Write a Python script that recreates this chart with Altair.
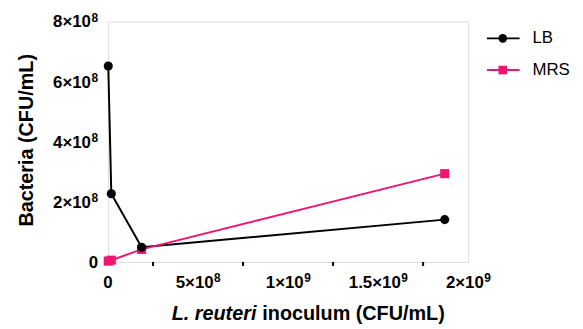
import altair as alt
import pandas as pd

inoculum = [1.87e6, 1.87e7, 1.87e8, 1.87e9]
lb = [6.52e8, 2.27e8, 4.9e7, 1.41e8]
mrs = [3e6, 6e6, 4.2e7, 2.94e8]
series = ["LB", "MRS"]
colors = ["#000000", "#EE1670"]
shapes = ["circle", "square"]

x_ticks = [0, 5e8, 1e9, 1.5e9, 2e9]
x_label_base = ["0", "5×10", "1×10", "1.5×10", "2×10"]
x_label_exp = ["", "8", "9", "9", "9"]
x_minor = [2.5e8, 7.5e8, 1.25e9, 1.75e9]
y_ticks = [0, 2e8, 4e8, 6e8, 8e8]
y_label_base = ["0", "2×10", "4×10", "6×10", "8×10"]
y_label_exp = ["", "8", "8", "8", "8"]

FONT = "Liberation Sans"
W, H = 364, 243
LAB_SIZE = 17
SUP_SIZE = 12

# Arial/Liberation Sans Bold advance widths (em)
ADV = {"0": .556, "1": .556, "2": .556, "3": .556, "4": .556, "5": .556,
       "6": .556, "7": .556, "8": .556, "9": .556, "×": .584, ".": .278}


def text_w(s, size):
    return sum(ADV.get(c, .556) for c in s) * size


df = pd.DataFrame({
    "x": inoculum * 2,
    "y": lb + mrs,
    "series": ["LB"] * len(lb) + ["MRS"] * len(mrs),
})

xscale = alt.Scale(domain=[0, 2e9], nice=False)
yscale = alt.Scale(domain=[0, 8e8], nice=False)
cscale = alt.Scale(domain=series, range=colors)
sscale = alt.Scale(domain=series, range=shapes)

axis_common = dict(
    domainColor="black", domainWidth=2, tickColor="black", tickWidth=2,
    tickSize=5, grid=False, labels=False, title=None,
)

xenc = alt.X("x:Q", scale=xscale, axis=alt.Axis(values=x_ticks, **axis_common))
yenc = alt.Y("y:Q", scale=yscale, axis=alt.Axis(values=y_ticks, **axis_common))

base = alt.Chart(df)

lines = base.mark_line(strokeWidth=2).encode(
    x=xenc, y=yenc,
    color=alt.Color("series:N", scale=cscale, legend=None),
    detail="series:N",
)

points = base.transform_calculate(order="datum.series == 'LB' ? 1 : 0").mark_point(
    filled=True, opacity=1, size=85
).encode(
    x="x:Q", y="y:Q",
    color=alt.Color("series:N", scale=cscale, legend=None),
    shape=alt.Shape("series:N", scale=sscale, legend=None),
    order="order:Q",
)

minor = alt.Chart(pd.DataFrame({"m": x_minor})).mark_rule(
    color="black", strokeWidth=2
).encode(x=alt.X("m:Q", scale=xscale, axis=None), y=alt.value(H), y2=alt.value(H + 4))

# tick labels with real superscripts (two text marks per label)
label_layers = []
for v, b, e in zip(x_ticks, x_label_base, x_label_exp):
    wb = text_w(b, LAB_SIZE)
    ws = text_w(e, SUP_SIZE)
    d = pd.DataFrame({"v": [v]})
    label_layers.append(alt.Chart(d).mark_text(
        text=b, font=FONT, fontWeight="bold", fontSize=LAB_SIZE, align="right",
        baseline="alphabetic", color="black", dx=(wb - ws) / 2
    ).encode(x=alt.X("v:Q", scale=xscale, axis=None), y=alt.value(H + 26)))
    if e:
        label_layers.append(alt.Chart(d).mark_text(
            text=e, font=FONT, fontWeight="bold", fontSize=SUP_SIZE, align="left",
            baseline="alphabetic", color="black", dx=(wb - ws) / 2 + 0.5
        ).encode(x=alt.X("v:Q", scale=xscale, axis=None), y=alt.value(H + 20)))

for v, b, e in zip(y_ticks, y_label_base, y_label_exp):
    ws = text_w(e, SUP_SIZE)
    d = pd.DataFrame({"v": [v]})
    label_layers.append(alt.Chart(d).mark_text(
        text=b, font=FONT, fontWeight="bold", fontSize=LAB_SIZE, align="right",
        baseline="alphabetic", color="black", dy=6
    ).encode(y=alt.Y("v:Q", scale=yscale, axis=None), x=alt.value(-10 - ws - (0.5 if e else 0))))
    if e:
        label_layers.append(alt.Chart(d).mark_text(
            text=e, font=FONT, fontWeight="bold", fontSize=SUP_SIZE, align="right",
            baseline="alphabetic", color="black", dy=0
        ).encode(y=alt.Y("v:Q", scale=yscale, axis=None), x=alt.value(-10)))

one = pd.DataFrame({"a": [0]})
ytitle = alt.Chart(one).mark_text(
    text="Bacteria (CFU/mL)", font=FONT, fontWeight="bold", fontSize=20,
    angle=270, align="center", baseline="middle", color="black"
).encode(x=alt.value(-82), y=alt.value(120))

xtitle1 = alt.Chart(one).mark_text(
    text="L. reuteri", font=FONT, fontWeight="bold", fontStyle="italic",
    fontSize=20, align="right", baseline="alphabetic", color="black"
).encode(x=alt.value(150), y=alt.value(302))
xtitle2 = alt.Chart(one).mark_text(
    text="inoculum (CFU/mL)", font=FONT, fontWeight="bold",
    fontSize=20, align="left", baseline="alphabetic", color="black"
).encode(x=alt.value(156), y=alt.value(302))

legend_layers = []
leg_y = [17, 49]
for name, col, shp, ly in zip(series, colors, shapes, leg_y):
    legend_layers.append(alt.Chart(one).mark_rule(color=col, strokeWidth=2).encode(
        x=alt.value(383), x2=alt.value(416), y=alt.value(ly)))
    legend_layers.append(alt.Chart(one).mark_point(
        filled=True, opacity=1, size=75, shape=shp, color=col).encode(
        x=alt.value(399), y=alt.value(ly)))
    legend_layers.append(alt.Chart(one).mark_text(
        text=name, font=FONT, fontSize=17, align="left", baseline="middle",
        color="black").encode(x=alt.value(429), y=alt.value(ly)))

chart = alt.layer(
    minor, lines, points, *label_layers, ytitle, xtitle1, xtitle2, *legend_layers
).properties(
    width=W, height=H,
    autosize=alt.AutoSizeParams(type="none"),
    padding={"left": 101, "top": 12, "right": 108, "bottom": 64},
).configure_view(stroke=None).configure(background="white")

chart.save("out.html", embed_options={"renderer": "svg", "actions": False})
